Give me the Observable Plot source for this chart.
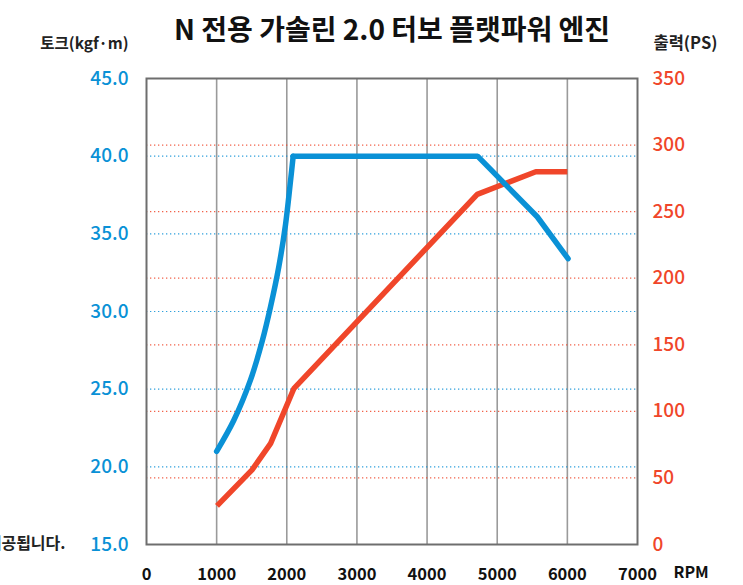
<!DOCTYPE html>
<html>
<head>
<meta charset="utf-8">
<script src="https://cdn.jsdelivr.net/npm/d3@7"></script>
<script src="https://cdn.jsdelivr.net/npm/@observablehq/plot@0.6"></script>
<style>
  html, body { margin: 0; padding: 0; background: #fff; }
  #chart svg { display: block; }
</style>
</head>
<body>
<div id="chart"></div>
<script>
// ---- data ----
const title = "N 전용 가솔린 2.0 터보 플랫파워 엔진";
const leftTitle = "토크(kgf·m)";
const rightTitle = "출력(PS)";
const xUnit = "RPM";
const sideNote = "제공됩니다.";

const rpmTicks = [0, 1000, 2000, 3000, 4000, 5000, 6000, 7000];
const rpmGrid = [1000, 2000, 3000, 4000, 5000, 6000];
const torqueTicks = [15, 20, 25, 30, 35, 40, 45];
const torqueGrid = [20, 25, 30, 35, 40];
const powerTicks = [0, 50, 100, 150, 200, 250, 300, 350];
const powerGrid = [50, 100, 150, 200, 250, 300];

// rising (curved) part of the torque curve, then the plateau and fall-off
const torqueRiseRpm = [1000, 1245, 1483, 1650, 1768, 1887, 1982, 2053, 2091];
const torqueRiseVal = [21.0, 23.0, 25.6, 28.1, 30.3, 32.9, 35.6, 38.4, 40.0];
const torqueTopRpm = [2091, 4720, 5570, 6010];
const torqueTopVal = [40.0, 40.0, 36.1, 33.4];
const powerRpm = [1005, 1505, 1770, 2100, 4715, 5550, 6000];
const powerVal = [29, 56, 76, 117, 263, 280, 280];

// ---- build ----
const tMin = 15, tMax = 45, pMax = 350;
const p2t = p => tMin + p * (tMax - tMin) / pMax;

const torqueRise = torqueRiseRpm.map((r, i) => ({rpm: r, v: torqueRiseVal[i]}));
const torqueTop = torqueTopRpm.map((r, i) => ({rpm: r, v: torqueTopVal[i]}));
const power = powerRpm.map((r, i) => ({rpm: r, v: p2t(powerVal[i])}));

const BLUE = "#0a91d6";
const RED = "#f0462a";
const FONT = "'Noto Sans CJK KR', 'Noto Sans', sans-serif";

const chart = Plot.plot({
  width: 743,
  height: 585,
  marginLeft: 146,
  marginRight: 106,
  marginTop: 78,
  marginBottom: 41,
  style: {fontFamily: FONT, background: "#fff", overflow: "visible"},
  x: {domain: [0, 7000]},
  y: {domain: [tMin, tMax]},
  marks: [
    // grid
    Plot.ruleX(rpmGrid, {x: d => d, stroke: "#9a9a9a", strokeWidth: 1.6}),
    Plot.ruleY(powerGrid.map(p2t), {y: d => d, stroke: RED, strokeOpacity: 0.85, strokeWidth: 1.2, strokeDasharray: "1.3,2.7"}),
    Plot.ruleY(torqueGrid, {y: d => d, stroke: BLUE, strokeOpacity: 0.85, strokeWidth: 1.2, strokeDasharray: "1.3,2.7"}),
    // frame
    Plot.frame({stroke: "#6e6e6e", strokeWidth: 2}),
    // axes
    Plot.axisX({ticks: rpmTicks, tickSize: 0, tickPadding: 24, label: null,
      fontSize: 16.5, fontWeight: 600, fill: "#111", tickFormat: d => String(d)}),
    Plot.axisY({anchor: "left", ticks: torqueTicks, tickSize: 0, tickPadding: 18, label: null,
      fontSize: 19, fontWeight: 500, fill: BLUE, tickFormat: d => d.toFixed(1)}),
    Plot.axisY({anchor: "right", ticks: powerTicks.map(p2t), tickSize: 0, tickPadding: 15, label: null,
      fontSize: 19, fontWeight: 500, fill: RED,
      tickFormat: d => String(Math.round((d - tMin) * pMax / (tMax - tMin)))}),
    // lines
    Plot.line(power, {x: "rpm", y: "v", stroke: RED, strokeWidth: 5.5, strokeLinejoin: "miter", strokeLinecap: "butt", curve: "linear"}),
    Plot.line(torqueRise, {x: "rpm", y: "v", stroke: BLUE, strokeWidth: 5.5, strokeLinecap: "round", curve: "catmull-rom"}),
    Plot.line(torqueTop, {x: "rpm", y: "v", stroke: BLUE, strokeWidth: 5.5, strokeLinejoin: "miter", strokeLinecap: "round", curve: "linear"}),
    // texts
    Plot.text([title], {text: d => d, frameAnchor: "top", dy: -58, fontSize: 28, fontWeight: 700, fill: "#111"}),
    Plot.text([leftTitle], {text: d => d, frameAnchor: "top-left", dx: -18, dy: -41, textAnchor: "end", fontSize: 15.5, fontWeight: 600, fill: "#222"}),
    Plot.text([rightTitle], {text: d => d, frameAnchor: "top-right", dx: 16, dy: -41, textAnchor: "start", fontSize: 16.5, fontWeight: 600, fill: "#222"}),
    Plot.text([xUnit], {text: d => d, frameAnchor: "bottom-right", dx: 36, dy: 33, textAnchor: "start", fontSize: 16, fontWeight: 600, fill: "#111"}),
    Plot.text([sideNote], {text: d => d, frameAnchor: "bottom-left", dx: -81, dy: 4, textAnchor: "end", fontSize: 16, fontWeight: 700, fill: "#222"})
  ]
});
document.getElementById("chart").appendChild(chart);
</script>
</body>
</html>
